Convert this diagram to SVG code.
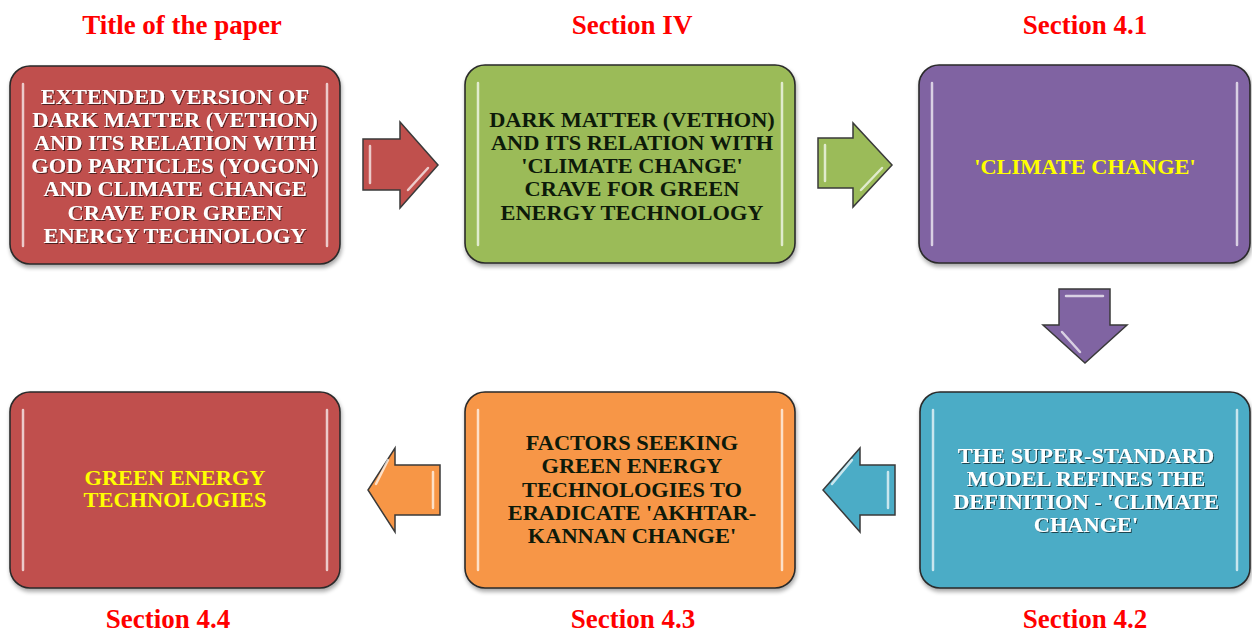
<svg xmlns="http://www.w3.org/2000/svg" width="1252" height="633" viewBox="0 0 1252 633">
<style>
.title{font-family:"Liberation Serif","Times New Roman",serif;font-weight:bold;font-size:27px;fill:#ff0000;text-anchor:middle}
.bt{font-family:"Liberation Serif","Times New Roman",serif;font-weight:bold;font-size:20px;text-anchor:middle}
.box{stroke:#2a2a2a;stroke-width:1.6}
.hl{stroke:#ffffff;stroke-opacity:0.7;stroke-width:2.5;stroke-linecap:round;fill:none}
.arr{stroke:#3a3a3a;stroke-width:1.5;stroke-linejoin:miter}
.white{fill:#ffffff}
.dark{fill:#0d1a0a}
.yellow{fill:#ffff00}
</style>
<defs>
<filter id="sh" x="-10%" y="-10%" width="120%" height="125%">
<feGaussianBlur in="SourceAlpha" stdDeviation="2"/>
<feOffset dx="1" dy="3" result="b"/>
<feComponentTransfer><feFuncA type="linear" slope="0.35"/></feComponentTransfer>
<feMerge><feMergeNode/><feMergeNode in="SourceGraphic"/></feMerge>
</filter>
<filter id="ts" x="-5%" y="-20%" width="110%" height="140%">
<feGaussianBlur in="SourceAlpha" stdDeviation="0.7"/>
<feOffset dx="0.6" dy="0.6"/>
<feComponentTransfer><feFuncA type="linear" slope="0.6"/></feComponentTransfer>
<feMerge><feMergeNode/><feMergeNode in="SourceGraphic"/></feMerge>
</filter>
</defs>
<rect width="1252" height="633" fill="#ffffff"/>

<g id="titles">
<text class="title" x="182" y="34">Title of the paper</text>
<text class="title" x="632" y="34">Section IV</text>
<text class="title" x="1085" y="34">Section 4.1</text>
<text class="title" x="168" y="628">Section 4.4</text>
<text class="title" x="633" y="628">Section 4.3</text>
<text class="title" x="1085" y="628">Section 4.2</text>
</g>

<g id="node1">
<rect class="box" x="10" y="66" width="330" height="198" rx="20" fill="#C0504D" filter="url(#sh)"/>
<line class="hl" x1="23" y1="84" x2="23" y2="246"/>
<line class="hl" x1="327" y1="84" x2="327" y2="246"/>
<g class="bt white" filter="url(#ts)" transform="translate(175,0) scale(1.12,1) translate(-175,0)">
<text x="175" y="104">EXTENDED VERSION OF</text>
<text x="175" y="127">DARK MATTER (VETHON)</text>
<text x="175" y="150">AND ITS RELATION WITH</text>
<text x="175" y="173">GOD PARTICLES (YOGON)</text>
<text x="175" y="196">AND CLIMATE  CHANGE</text>
<text x="175" y="220">CRAVE FOR GREEN</text>
<text x="175" y="243">ENERGY TECHNOLOGY</text>
</g>
</g>

<g id="node2">
<rect class="box" x="465" y="65" width="330" height="198" rx="20" fill="#9BBB59" filter="url(#sh)"/>
<line class="hl" x1="478" y1="83" x2="478" y2="245"/>
<line class="hl" x1="782" y1="83" x2="782" y2="245"/>
<g class="bt dark" transform="translate(632,0) scale(1.12,1) translate(-632,0)">
<text x="632" y="127">DARK MATTER (VETHON)</text>
<text x="632" y="150">AND ITS RELATION WITH</text>
<text x="632" y="173">'CLIMATE CHANGE'</text>
<text x="632" y="196">CRAVE FOR GREEN</text>
<text x="632" y="220">ENERGY TECHNOLOGY</text>
</g>
</g>

<g id="node3">
<rect class="box" x="919" y="65" width="331" height="198" rx="20" fill="#8064A2" filter="url(#sh)"/>
<line class="hl" x1="932" y1="83" x2="932" y2="245"/>
<line class="hl" x1="1237" y1="83" x2="1237" y2="245"/>
<text class="bt yellow" x="1085" y="174" transform="translate(1085,0) scale(1.12,1) translate(-1085,0)">'CLIMATE CHANGE'</text>
</g>

<g id="node4">
<rect class="box" x="10" y="392" width="330" height="196" rx="20" fill="#C0504D" filter="url(#sh)"/>
<line class="hl" x1="23" y1="410" x2="23" y2="570"/>
<line class="hl" x1="327" y1="410" x2="327" y2="570"/>
<g class="bt yellow" transform="translate(175,0) scale(1.12,1) translate(-175,0)">
<text x="175" y="485">GREEN  ENERGY</text>
<text x="175" y="507">TECHNOLOGIES</text>
</g>
</g>

<g id="node5">
<rect class="box" x="465" y="392" width="330" height="196" rx="20" fill="#F79646" filter="url(#sh)"/>
<line class="hl" x1="478" y1="410" x2="478" y2="570"/>
<line class="hl" x1="782" y1="410" x2="782" y2="570"/>
<g class="bt dark" transform="translate(632,0) scale(1.12,1) translate(-632,0)">
<text x="632" y="450">FACTORS SEEKING</text>
<text x="632" y="473">GREEN ENERGY</text>
<text x="632" y="497">TECHNOLOGIES TO</text>
<text x="632" y="520">ERADICATE 'AKHTAR-</text>
<text x="632" y="543">KANNAN CHANGE'</text>
</g>
</g>

<g id="node6">
<rect class="box" x="920" y="392" width="330" height="196" rx="20" fill="#4BACC6" filter="url(#sh)"/>
<line class="hl" x1="933" y1="410" x2="933" y2="570"/>
<line class="hl" x1="1237" y1="410" x2="1237" y2="570"/>
<g class="bt white" filter="url(#ts)" transform="translate(1086,0) scale(1.12,1) translate(-1086,0)">
<text x="1086" y="463">THE SUPER-STANDARD</text>
<text x="1086" y="486">MODEL REFINES THE</text>
<text x="1086" y="509">DEFINITION - 'CLIMATE</text>
<text x="1086" y="532">CHANGE'</text>
</g>
</g>

<g id="connectors">
<g id="arrow1">
<polygon class="arr" points="363,139 400,139 400,122 438,165 400,208 400,190 363,190" fill="#C0504D"/>
<line class="hl" x1="370" y1="146" x2="370" y2="183" stroke-width="2"/>
<line class="hl" x1="408" y1="190" x2="428" y2="168" stroke-width="2"/>
</g>
<g id="arrow2">
<polygon class="arr" points="818,138 853,138 853,123 892,165 853,207 853,188 818,188" fill="#9BBB59"/>
<line class="hl" x1="825" y1="145" x2="825" y2="181" stroke-width="2"/>
<line class="hl" x1="861" y1="190" x2="882" y2="168" stroke-width="2"/>
</g>
<g id="arrow3">
<polygon class="arr" points="1059,289 1110,289 1110,325 1127,325 1085,363 1043,325 1059,325" fill="#8064A2"/>
<line class="hl" x1="1066" y1="296" x2="1103" y2="296" stroke-width="2"/>
<line class="hl" x1="1062" y1="332" x2="1080" y2="352" stroke-width="2"/>
</g>
<g id="arrow4">
<polygon class="arr" points="895,465 860,465 860,448 823,490 860,532 860,515 895,515" fill="#4BACC6"/>
<line class="hl" x1="888" y1="472" x2="888" y2="508" stroke-width="2"/>
<line class="hl" x1="852" y1="460" x2="832" y2="484" stroke-width="2"/>
</g>
<g id="arrow5">
<polygon class="arr" points="440,465 395,465 395,448 368,490 395,532 395,515 440,515" fill="#F79646"/>
<line class="hl" x1="433" y1="472" x2="433" y2="508" stroke-width="2"/>
<line class="hl" x1="388" y1="460" x2="376" y2="484" stroke-width="2"/>
</g>
</g>
</svg>
